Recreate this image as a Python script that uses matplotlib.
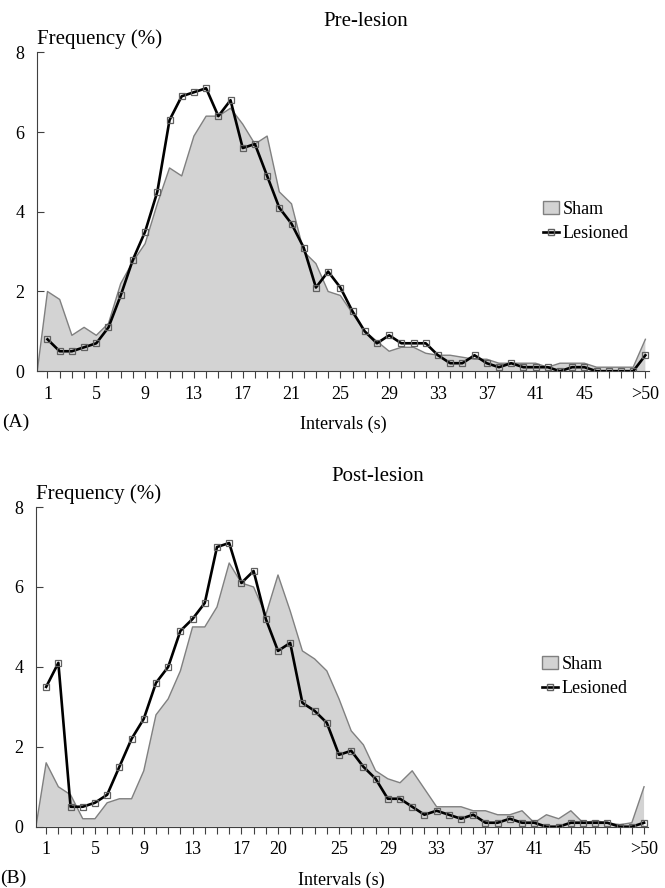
import matplotlib.pyplot as plt
import numpy as np
from matplotlib.patches import Patch
from matplotlib.lines import Line2D

plt.rcParams['font.family'] = ['Liberation Serif', 'DejaVu Serif']

# interval bins 1..49 and the last one ">50"
positions = np.arange(1, 51)

pre_sham = [2.0, 1.8, 0.9, 1.1, 0.9, 1.2, 2.2, 2.75, 3.2, 4.2,
            5.1, 4.9, 5.9, 6.4, 6.4, 6.6, 6.2, 5.7, 5.9, 4.5,
            4.2, 3.0, 2.7, 2.0, 1.9, 1.45, 1.0, 0.75, 0.5, 0.6,
            0.6, 0.45, 0.4, 0.4, 0.35, 0.3, 0.3, 0.2, 0.2, 0.2,
            0.2, 0.1, 0.2, 0.2, 0.2, 0.1, 0.1, 0.1, 0.1, 0.8]
pre_lesioned = [0.8, 0.5, 0.5, 0.6, 0.7, 1.1, 1.9, 2.8, 3.5, 4.5,
                6.3, 6.9, 7.0, 7.1, 6.4, 6.8, 5.6, 5.7, 4.9, 4.1,
                3.7, 3.1, 2.1, 2.5, 2.1, 1.5, 1.0, 0.7, 0.9, 0.7,
                0.7, 0.7, 0.4, 0.2, 0.2, 0.4, 0.2, 0.1, 0.2, 0.1,
                0.1, 0.1, 0.0, 0.1, 0.1, 0.0, 0.0, 0.0, 0.0, 0.4]

post_sham = [1.6, 1.0, 0.8, 0.2, 0.2, 0.6, 0.7, 0.7, 1.4, 2.8,
             3.2, 3.9, 5.0, 5.0, 5.5, 6.6, 6.1, 6.0, 5.3, 6.3,
             5.4, 4.4, 4.2, 3.9, 3.2, 2.4, 2.05, 1.4, 1.2, 1.1,
             1.4, 0.95, 0.5, 0.5, 0.5, 0.4, 0.4, 0.3, 0.3, 0.4,
             0.1, 0.3, 0.2, 0.4, 0.1, 0.15, 0.1, 0.05, 0.1, 1.0]
post_lesioned = [3.5, 4.1, 0.5, 0.5, 0.6, 0.8, 1.5, 2.2, 2.7, 3.6,
                 4.0, 4.9, 5.2, 5.6, 7.0, 7.1, 6.1, 6.4, 5.2, 4.4,
                 4.6, 3.1, 2.9, 2.6, 1.8, 1.9, 1.5, 1.2, 0.7, 0.7,
                 0.5, 0.3, 0.4, 0.3, 0.2, 0.3, 0.1, 0.1, 0.2, 0.1,
                 0.1, 0.0, 0.0, 0.1, 0.1, 0.1, 0.1, 0.0, 0.0, 0.1]

pre_tick_pos = [1, 5, 9, 13, 17, 21, 25, 29, 33, 37, 41, 45, 50]
pre_tick_text = ['1', '5', '9', '13', '17', '21', '25', '29', '33', '37', '41', '45', '>50']
post_tick_pos = [1, 5, 9, 13, 17, 20, 25, 29, 33, 37, 41, 45, 50]
post_tick_text = ['1', '5', '9', '13', '17', '20', '25', '29', '33', '37', '41', '45', '>50']

XMIN, XMAX = 0.16, 50.3


def draw_panel(ax, sham, lesioned, title, title_x, tick_pos, tick_text, letter):
    xs = np.r_[XMIN, positions]
    ys = np.r_[0, sham]
    ax.fill_between(xs, ys, 0, facecolor='#d3d3d3', edgecolor='none', zorder=1)
    ax.plot(xs, ys, color='#808080', lw=1.0, zorder=2)
    ax.plot(positions, lesioned, color='black', lw=1.9, marker='s', ms=5,
            mfc='none', mec='#606060', mew=0.9, zorder=3)

    ax.set_xlim(XMIN, XMAX)
    ax.set_ylim(0, 8)
    for s in ['top', 'right']:
        ax.spines[s].set_visible(False)
    ax.spines['left'].set_color('#404040')
    ax.spines['bottom'].set_color('#404040')

    ax.set_yticks([0, 2, 4, 6, 8])
    ax.tick_params(axis='y', direction='in', length=5, pad=9, labelsize=13, color='#404040')
    labels = {p: t for p, t in zip(tick_pos, tick_text)}
    ax.set_xticks(positions)
    ax.set_xticklabels([labels.get(p, '') for p in positions])
    ax.tick_params(axis='x', direction='out', length=5, pad=5.5, labelsize=13, color='#404040')

    ax.text(0.0, 1.01, 'Frequency (%)', transform=ax.transAxes, fontsize=15,
            ha='left', va='bottom')
    ax.set_title(title, fontsize=15, x=title_x, pad=19)
    ax.set_xlabel('Intervals (s)', fontsize=13, labelpad=9.5)
    ax.text(-0.058, -0.16, letter, transform=ax.transAxes, fontsize=14,
            ha='left', va='center')

    handles = [Patch(facecolor='#d3d3d3', edgecolor='#808080', label='Sham'),
               Line2D([], [], color='black', lw=1.9, marker='s', ms=5, mfc='none',
                      mec='#606060', label='Lesioned')]
    ax.legend(handles=handles, loc='center left', bbox_to_anchor=(0.8, 0.47),
              frameon=False, fontsize=13, handlelength=0.9, handletextpad=0.2,
              labelspacing=0.4)


fig = plt.figure(figsize=(6.65, 8.88), dpi=100)
ax1 = fig.add_axes([0.056, 0.582, 0.92, 0.359])
ax2 = fig.add_axes([0.054, 0.069, 0.92, 0.36])

draw_panel(ax1, pre_sham, pre_lesioned, 'Pre-lesion', 0.537, pre_tick_pos, pre_tick_text, '(A)')
draw_panel(ax2, post_sham, post_lesioned, 'Post-lesion', 0.559, post_tick_pos, post_tick_text, '(B)')

fig.savefig('out.png', dpi=100)
